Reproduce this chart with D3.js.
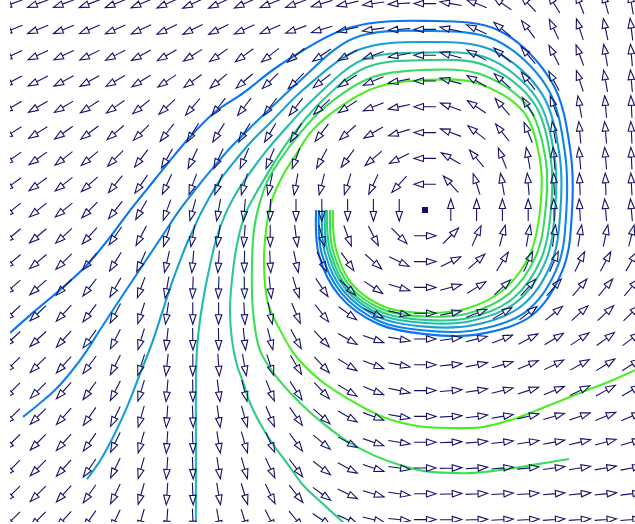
<!DOCTYPE html>
<html>
<head>
<meta charset="utf-8">
<script src="https://cdn.jsdelivr.net/npm/d3@7"></script>
<style>
  body { margin: 0; background: #fff; }
  svg { display: block; }
</style>
</head>
<body>
<div id="canvas"></div>
<script>
// grid of arrow positions (grid units, vortex centre at 0,0)
const gridX = d3.range(-16, 9);
const gridY = d3.range(8, -13, -1);

// arrow direction in degrees (0 = right, 90 = up), one row per gridY
const angles = [
  [200,200,200,201,202,203,204,205, 205,204,202,200,197,193,188,184, 180,170,158,145,133,122,112,105,100],
  [202,202,202,203,204,205,206,207, 207,205,203,200,197,193,188,184, 180,168,155,140,127,115,108,102,97],
  [205,205,205,206,207,208,210,212, 215,216,218,219,214,209,200,190, 180,165,152,140,130,117,110,100,95],
  [207,207,208,209,210,212,214,216, 220,221,224,225,218,213,203,191, 180,165,150,138,128,118,108,100,95],
  [210,210,211,213,215,219,223,229, 232,232,233,232,223,213,202,192, 180,160,146,131,122,110,100,95,93],
  [212,212,215,217,220,225,232,238, 238,239,239,239,233,222,210,197, 180,160,142,128,112,100,95,95,93],
  [215,215,218,220,225,233,240,245, 245,247,248,250,242,234,221,207, 180,150,130,112,100,95,95,95,93],
  [216,216,218,222,231,235,245,250, 250,254,258,260,256,253,245,228, 180,132,108,100,95,92,92,92,93],
  [219,219,219,225,232,240,250,255, 260,265,268,270,270,270,270,270, null,90,90,90,90,92,93,95,95],
  [220,220,222,228,235,242,252,260, 262,266,270,277,285,290,297,315, 0,45,66,75,80,82,80,78,76],
  [220,220,224,230,238,246,257,265, 266,269,273,282,296,305,318,334, 0,26,42,58,66,67,64,62,60],
  [222,222,226,232,240,250,260,268, 268,271,276,287,304,316,327,343, 0,15,32,43,48,49,50,50,50],
  [223,223,227,233,242,252,262,270, 270,273,281,293,308,324,334,348, 0,11,21,31,37,39,42,43,44],
  [223,223,228,234,243,253,264,271, 271,276,284,298,313,330,341,350, 0,8,14,21,28,31,34,36,37],
  [225,225,228,233,243,252,264,270, 274,280,288,300,313,328,339,349, 0,6,11,16,22,26,29,32,33],
  [225,225,228,234,243,253,265,271, 277,284,292,303,313,329,338,348, 0,5,9,14,18,22,26,29,30],
  [225,225,228,235,244,254,266,272, 278,285,293,305,318,330,340,350, 0,4,7,10,13,16,19,22,23],
  [225,225,228,235,244,254,266,272, 279,286,294,306,320,331,341,351, 0,3,5,7,9,11,13,15,16],
  [225,225,228,235,244,254,266,272, 279,286,295,307,322,332,342,352, 0,2,4,5,6,8,9,10,11],
  [225,225,228,235,244,254,266,272, 280,287,296,308,324,334,344,352, 0,2,3,4,4,5,6,6,7],
  [225,225,228,235,244,254,266,272, 280,287,297,309,326,336,346,354, 0,1,2,3,3,4,4,4,5]
];

const vortexCenter = [0, 0];

// streamlines, outermost (blue) to innermost (green)
const line1 = [[-4.22,0],[-4.12,-1.71],[-3.32,-3.32],[-1.83,-4.41],[0,-4.81],[2.00,-4.83],[4.11,-4.11],
  [5.37,-2.23],[5.70,0],[5.63,2.33],[4.93,4.93],[2.88,6.95],[0,7.33],[-2.93,7.06],[-5.62,5.62],
  [-7.05,4.53],[-8.14,3.80],[-9.11,2.83],[-9.96,1.82],[-10.74,0.85],[-11.51,-0.12],[-12.29,-1.16],
  [-13.14,-2.17],[-14.15,-3.10],[-15.16,-3.95],[-16.09,-4.77]];
const line2 = [[-4.11,0],[-4.01,-1.66],[-3.23,-3.23],[-1.78,-4.30],[0,-4.67],[1.93,-4.66],[3.93,-3.93],
  [5.16,-2.14],[5.48,0],[5.42,2.25],[4.74,4.74],[2.73,6.59],[0,6.94],[-2.76,6.66],[-4.93,4.93],
  [-5.81,4.11],[-6.67,3.29],[-7.48,2.48],[-8.22,1.63],[-8.91,0.78],[-9.57,-0.08],[-10.16,-0.97],
  [-10.78,-1.90],[-11.40,-2.83],[-12.02,-3.76],[-12.60,-4.65],[-13.14,-5.50],[-13.72,-6.28],
  [-14.34,-6.98],[-14.96,-7.52],[-15.58,-8.02]];
const line3 = [[-3.99,0],[-3.89,-1.61],[-3.15,-3.15],[-1.73,-4.18],[0,-4.52],[1.85,-4.47],[3.73,-3.73],
  [4.91,-2.03],[5.25,0],[5.21,2.16],[4.52,4.52],[2.57,6.21],[0,6.51],[-2.57,6.21],[-4.69,4.69],
  [-6.01,3.37],[-6.78,2.60],[-7.44,1.82],[-7.95,1.16],[-8.41,0.39],[-8.72,-0.19],
  [-8.99,-0.78],[-9.22,-1.28],[-9.77,-2.71],[-10.16,-3.88],[-10.58,-5.16],[-11.05,-6.36],
  [-11.55,-7.64],[-12.09,-8.80],[-12.60,-9.73],[-13.10,-10.43]];
const line4 = [[-3.88,0],[-3.78,-1.57],[-3.07,-3.07],[-1.69,-4.07],[0,-4.38],[1.78,-4.30],[3.56,-3.56],
  [4.69,-1.95],[5.04,0],[5.02,2.08],[4.33,4.33],[2.44,5.88],[0,6.10],[-2.41,5.82],[-4.31,4.31],
  [-5.35,3.22],[-6.12,2.33],[-6.90,1.28],[-7.36,0.58],[-7.75,-0.19],[-8.10,-1.16],[-8.33,-2.13],
  [-8.53,-3.10],[-8.72,-4.26],[-8.84,-5.43],[-8.88,-6.98],[-8.88,-8.53],[-8.88,-10.08],[-8.88,-12.40]];
const line5 = [[-3.80,0],[-3.69,-1.53],[-3.01,-3.01],[-1.65,-3.97],[0,-4.26],[1.73,-4.18],[3.42,-3.42],
  [4.51,-1.87],[4.88,0],[4.87,2.02],[4.19,4.19],[2.32,5.61],[0,5.81],[-2.29,5.52],[-4.11,4.11],
  [-5.35,2.60],[-6.09,1.43],[-6.59,0.58],[-6.98,-0.19],[-7.25,-1.16],[-7.44,-2.33],[-7.56,-3.88],
  [-7.48,-5.04],[-7.29,-6.01],[-7.05,-6.67],[-6.78,-7.48],[-6.40,-8.26],[-5.93,-9.03],[-5.35,-9.81],
  [-4.73,-10.66],[-3.99,-11.36],[-3.10,-12.17]];
const line6 = [[-3.68,0],[-3.59,-1.49],[-2.93,-2.93],[-1.60,-3.87],[0,-4.13],[1.66,-4.01],[3.25,-3.25],
  [4.30,-1.78],[4.67,0],[4.68,1.94],[4.00,4.00],[2.18,5.25],[0,5.43],[-2.12,5.12],[-3.94,3.94],
  [-4.84,2.98],[-5.62,1.94],[-6.09,1.16],[-6.43,0.19],[-6.63,-0.78],[-6.71,-2.33],[-6.67,-3.88],
  [-6.40,-5.43],[-5.81,-6.40],[-4.84,-7.48],[-3.88,-8.33],[-2.91,-9.03],[-1.94,-9.53],[-0.97,-9.88],
  [0,-10.12],[0.97,-10.19],[1.94,-10.19],[2.91,-10.08],[4.19,-9.88],[5.58,-9.65]];
const line7 = [[-3.57,0],[-3.47,-1.44],[-2.85,-2.85],[-1.56,-3.76],[0,-3.99],[1.59,-3.83],[3.07,-3.07],
  [4.08,-1.69],[4.46,0],[4.47,1.85],[3.81,3.81],[2.03,4.91],[0,5.04],[-1.96,4.73],[-3.70,3.70],
  [-4.46,2.98],[-4.96,2.21],[-5.50,1.36],[-5.93,0.39],[-6.16,-0.78],[-6.24,-2.05],[-6.09,-3.60],
  [-5.62,-4.65],[-5.04,-5.62],[-4.07,-6.59],[-2.91,-7.36],[-1.63,-8.02],[-0.31,-8.37],[0.97,-8.45],
  [2.25,-8.41],[3.57,-8.06],[4.84,-7.56],[6.12,-7.05],[7.29,-6.59],[8.33,-6.12]];

const streamlines = [line1, line2, line3, line4, line5, line6, line7];
const lineColors = ['#0b72f6', '#0e84ea', '#18a0d2', '#26bcac', '#2dcc86', '#39dd58', '#47ef22'];

const width = 635;
const height = 524;
const arrowColor = '#12126a';

const x = d3.scaleLinear().domain([-16, 8]).range([12.2, 631.4]);
const y = d3.scaleLinear().domain([-12, 8]).range([519.6, 3.6]);

const svg = d3.select('#canvas')
  .append('svg')
  .attr('width', width)
  .attr('height', height)
  .style('background', '#fff');

svg.append('defs')
  .append('clipPath')
  .attr('id', 'plot-clip')
  .append('rect')
  .attr('x', 10)
  .attr('y', 0)
  .attr('width', width - 10)
  .attr('height', 522);

const plot = svg.append('g').attr('clip-path', 'url(#plot-clip)');

const line = d3.line()
  .x(d => x(d[0]))
  .y(d => y(d[1]))
  .curve(d3.curveCatmullRom.alpha(0.5));

plot.append('g')
  .selectAll('path')
  .data(streamlines)
  .enter()
  .append('path')
  .attr('d', line)
  .attr('fill', 'none')
  .attr('stroke', (d, i) => lineColors[i])
  .attr('stroke-width', 2.1)
  .attr('stroke-linecap', 'butt');

// flatten the angle grid into arrows
const arrows = [];
gridY.forEach((gy, r) => {
  gridX.forEach((gx, c) => {
    const a = angles[r][c];
    if (a !== null) arrows.push({ gx, gy, a });
  });
});

const arrowLen = 22;
const headLen = 9.5;
const headHalf = 3.2;

const arrowPath = (d) => {
  const cx = x(d.gx);
  const cy = y(d.gy);
  const rad = d.a * Math.PI / 180;
  const ux = Math.cos(rad);
  const uy = -Math.sin(rad);
  const px = -uy;
  const py = ux;
  const tx = cx - ux * arrowLen / 2;
  const ty = cy - uy * arrowLen / 2;
  const hx = cx + ux * arrowLen / 2;
  const hy = cy + uy * arrowLen / 2;
  const bx = hx - ux * headLen;
  const by = hy - uy * headLen;
  const p = d3.path();
  p.moveTo(tx, ty);
  p.lineTo(bx, by);
  p.moveTo(hx, hy);
  p.lineTo(bx + px * headHalf, by + py * headHalf);
  p.lineTo(bx - px * headHalf, by - py * headHalf);
  p.closePath();
  return p.toString();
};

plot.append('g')
  .selectAll('path')
  .data(arrows)
  .enter()
  .append('path')
  .attr('d', arrowPath)
  .attr('fill', 'none')
  .attr('stroke', arrowColor)
  .attr('stroke-width', 1.1)
  .attr('stroke-linejoin', 'miter');

plot.append('rect')
  .attr('x', x(vortexCenter[0]) - 3)
  .attr('y', y(vortexCenter[1]) - 3)
  .attr('width', 6)
  .attr('height', 6)
  .attr('fill', arrowColor);
</script>
</body>
</html>
